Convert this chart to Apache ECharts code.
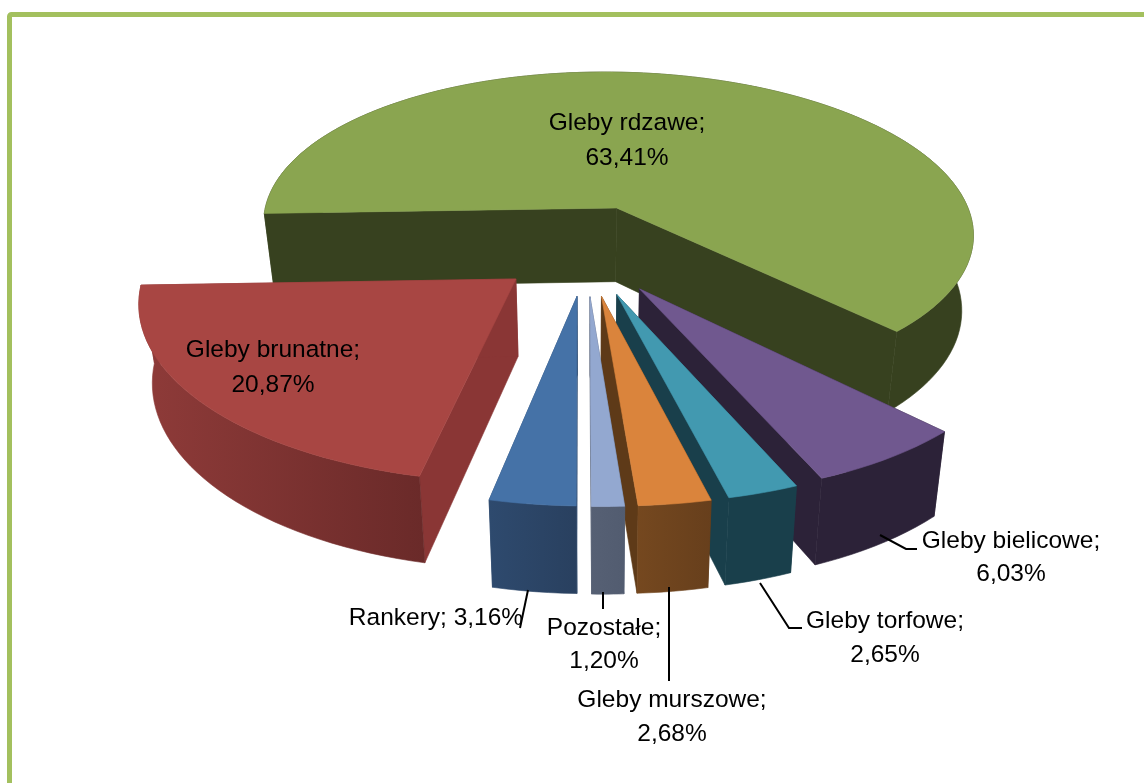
<!DOCTYPE html>
<html><head><meta charset="utf-8">
<style>html,body{margin:0;padding:0;background:#fff}#c{width:1144px;height:783px}</style>
<script src="https://cdn.jsdelivr.net/npm/echarts@6/dist/echarts.min.js"></script>
</head><body><div id="c"></div>
<script>
const categories = ['Gleby rdzawe','Gleby bielicowe','Gleby torfowe','Gleby murszowe','Pozostałe','Rankery','Gleby brunatne'];
const shares = [63.41,6.03,2.65,2.68,1.20,3.16,20.87];
const topColors = ['#8aa550','#70588f','#4299b0','#da843c','#93a8d0','#4572a7','#a84643'];
const wallColors = [['#37411f','#37411f'],['#2c2238','#2c2238'],['#193f4b','#193f4b'],['#75481f','#673f1c'],['#566074','#525c70'],['#2e4a6e','#29405f'],['#8f3b39','#6a2a29']];
const cutColors = ['#37411f','#2c2238','#193f4b','#5e3a18','#566074','#2e4a6e','#8a3635'];

// label placement and leader paths, per slice
const labelLayout = [
  {x:627,y:123,dy:35},{x:1011,y:541,dy:33},{x:885,y:621,dy:34},{x:672,y:700,dy:34},{x:604,y:628,dy:33},{x:436,y:618,oneLine:true},{x:273,y:350,dy:35}
];
const leaders = [null,[[880,535],[906,549],[917,549]],[[760,583],[789,628],[802,628]],[[669,587],[669,681]],[[603,592],[603,609]],[[528,590],[520,628]],null];

const startAngle = 268, cx = 586, cy = 249, R = 364, tilt = 0.455, persp = 0.14, skew = 10, explodeX = 0.25, explodeY = 0.277, depth = 76, depthGrow = 0.12, shrink = 0.97;
const total = shares.reduce((a,b)=>a+b,0);
const rad = d => d*Math.PI/180;

function proj(X,Y){const s=1/(1-persp*Y);return [cx+(R*X+skew*Y)*s, cy+R*tilt*Y*s];}
function low(X,Y){const s=1/(1-persp*Y);return [cx+(R*X*shrink+skew*Y)*s, cy+R*tilt*Y*s+depth*(1+depthGrow*Y)];}
function fmt(v){return v.toFixed(2).replace('.',',')+'%';}

function renderItem(params, api){
  const i = params.dataIndex;
  const before = shares.slice(0,i).reduce((a,b)=>a+b,0);
  const a0 = startAngle + before/total*360, a1 = a0 + shares[i]/total*360, mid=(a0+a1)/2;
  const ox = Math.sin(rad(mid))*explodeX, oy = -Math.cos(rad(mid))*explodeY;
  const top=[], bot=[], n=Math.max(6,Math.ceil((a1-a0)/2));
  for(let j=0;j<=n;j++){
    const a=rad(a0+(a1-a0)*j/n), X=ox+Math.sin(a), Y=oy-Math.cos(a);
    top.push(proj(X,Y)); bot.push(low(X,Y));
  }
  const apexT=proj(ox,oy), apexB=low(ox,oy);
  const poly=(pts,fill)=>({type:'polygon',shape:{points:pts},style:{fill,stroke:fill,lineWidth:0.6}});
  const children=[
    poly([apexT,top[0],bot[0],apexB],cutColors[i]),
    poly([apexT,top[n],bot[n],apexB],cutColors[i]),
    poly(top.concat(bot.slice().reverse()),new echarts.graphic.LinearGradient(0,0,1,0,[{offset:0,color:wallColors[i][0]},{offset:1,color:wallColors[i][1]}])),
    poly([apexT].concat(top),topColors[i])
  ];
  const L=labelLayout[i], txt=(text,y)=>({type:'text',z2:50,style:{text,x:L.x,y,fill:'#000',font:'24.5px "Liberation Sans"',align:'center',verticalAlign:'middle'}});
  if(leaders[i]) children.push({type:'polyline',shape:{points:leaders[i]},style:{fill:'none',stroke:'#000',lineWidth:2}});
  if(L.oneLine) children.push(txt(categories[i]+'; '+fmt(shares[i]),L.y));
  else children.push(txt(categories[i]+';',L.y),txt(fmt(shares[i]),L.y+L.dy));
  return {type:'group',children};
}

const chart = echarts.init(document.getElementById('c'),null,{renderer:'canvas'});
chart.setOption({
  animation:false,
  backgroundColor:'#fff',
  graphic:[{type:'rect',shape:{x:9.5,y:14.5,width:1300,height:900,r:2},style:{fill:'none',stroke:'#a3c05e',lineWidth:5},silent:true}],
  series:[{type:'custom',coordinateSystem:'none',renderItem,data:shares,silent:true}]
});
</script></body></html>
